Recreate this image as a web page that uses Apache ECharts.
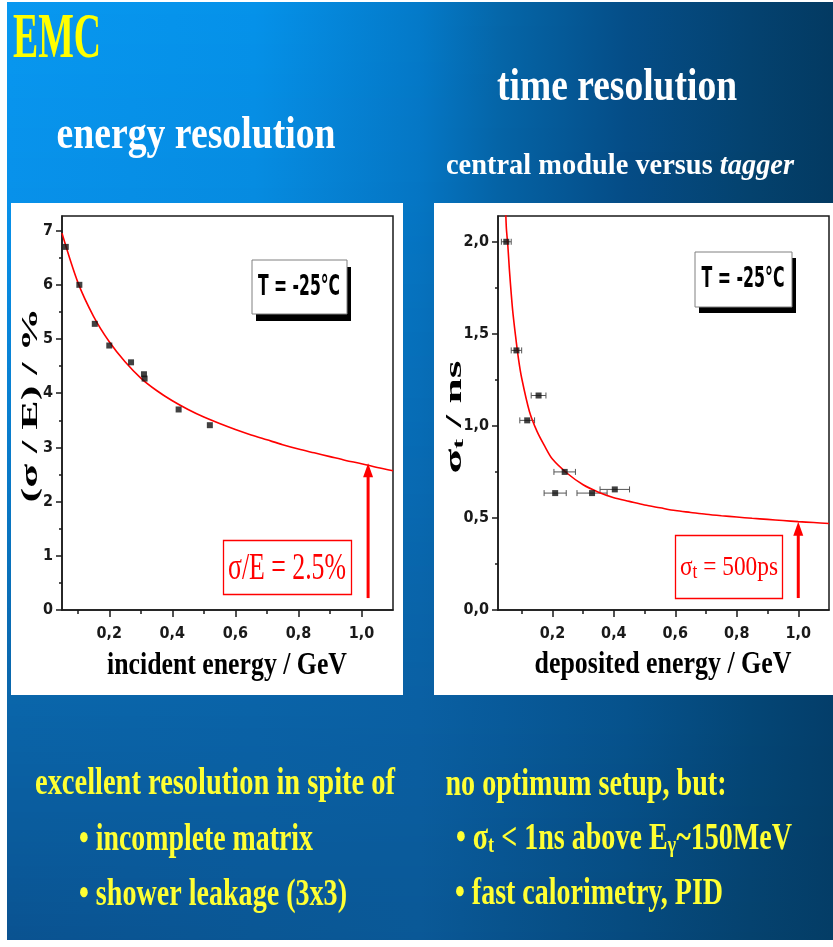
<!DOCTYPE html>
<html><head><meta charset="utf-8">
<script src="https://cdn.jsdelivr.net/npm/echarts@6/dist/echarts.min.js"></script>
<style>html,body{margin:0;padding:0;background:#fff;overflow:hidden}#c{width:833px;height:947px}</style>
</head><body><div id="c"></div>
<script>
// ================= DATA =================
// Energy resolution (left panel): measured points [E/GeV, sigma/E %]
const energyPoints = [[0.062,6.70],[0.105,6.00],[0.154,5.28],[0.200,4.88],[0.269,4.57],[0.310,4.35],[0.312,4.27],[0.420,3.70],[0.519,3.41]];
// fitted curve
const energyFit = [[0.05,6.95],[0.10,6.05],[0.15,5.42],[0.20,4.95],[0.25,4.58],[0.30,4.28],[0.35,4.05],[0.40,3.86],[0.45,3.70],[0.50,3.56],[0.55,3.44],[0.60,3.33],[0.65,3.23],[0.70,3.14],[0.75,3.05],[0.80,2.97],[0.85,2.90],[0.90,2.83],[0.95,2.76],[1.00,2.70],[1.05,2.63],[1.10,2.57]];
// Time resolution (right panel): [E/GeV, sigma_t ns, x error GeV]
const timePoints = [[0.050,2.00,0.016],[0.083,1.41,0.017],[0.155,1.165,0.024],[0.118,1.03,0.024],[0.240,0.75,0.035],[0.209,0.635,0.036],[0.329,0.635,0.049],[0.403,0.655,0.048]];
const timeFit = [[0.045,2.33],[0.05,2.08],[0.055,1.98],[0.06,1.85],[0.07,1.64],[0.08,1.49],[0.09,1.36],[0.10,1.26],[0.125,1.08],[0.15,0.97],[0.175,0.89],[0.20,0.82],[0.25,0.74],[0.30,0.68],[0.35,0.64],[0.40,0.61],[0.45,0.59],[0.50,0.57],[0.55,0.555],[0.60,0.54],[0.65,0.53],[0.70,0.52],[0.75,0.512],[0.80,0.505],[0.85,0.498],[0.90,0.492],[0.95,0.486],[1.00,0.48],[1.05,0.475],[1.10,0.47]];
// arrows [x, yStart, yTip] (data coordinates)
const energyArrow = [[1.021, 0.22, 2.71]];
const timeArrow = [[1.0, 0.065, 0.479]];
// ticks
const xMajorTicks = [0.2,0.4,0.6,0.8,1.0];
const xMinorTicks = [0.1,0.3,0.5,0.7,0.9];
const energyYTicks = [0,1,2,3,4,5,6,7];
const energyYMinor = [0.5,1.5,2.5,3.5,4.5,5.5,6.5];
const timeYTicks = [0,0.5,1.0,1.5,2.0];
const timeYMinor = [0.25,0.75,1.25,1.75];
// texts
const titleMain = 'EMC';
const titleLeft = 'energy resolution';
const titleRight = 'time resolution';
const subRight = ['central module versus ', 'tagger'];
const leftXName = 'incident energy / GeV';
const leftYName = '(σ / E) / %';
const rightXName = 'deposited energy / GeV';
const rightYName = ['σ', 't', ' / ns'];
const tempLabel = 'T = -25°C';
const leftNote = 'σ/E = 2.5%';
const rightNote = ['σ', 't', ' = 500ps'];
const bulletsLeft = ['excellent resolution in spite of', '• incomplete matrix', '• shower leakage (3x3)'];
const bulletsRight = ['no optimum setup, but:', ['• σ', 't', ' < 1ns above E', 'γ', '~150MeV'], '• fast calorimetry, PID'];

// ================= HELPERS =================
const FS = "'Liberation Serif','Times New Roman',serif";
const FN = "'Liberation Sans Narrow','Arial Narrow','DejaVu Sans Condensed',sans-serif";
const mctx = document.createElement('canvas').getContext('2d');
function fstr(size, weight, fam, style) { return (style || 'normal') + ' ' + (weight || 'normal') + ' ' + size + 'px ' + fam; }
function measure(parts) { let w = 0; parts.forEach(p => { mctx.font = p[1]; w += mctx.measureText(p[0]).width; }); return w; }
const comma = v => v.toFixed(1).replace('.', ',');

function ftext(text, cx, cy, w, size, weight, fam, fill, opts) {
  opts = opts || {};
  const font = fstr(size, weight, fam, opts.style);
  const s = w / measure([[text, font]]);
  const el = { type: 'text', x: cx, y: cy, z: 100, silent: true,
    style: { text: text, font: font, fill: fill, align: 'center', verticalAlign: 'middle' } };
  if (opts.rot) { el.rotation = Math.PI / 2; el.scaleX = s; el.scaleY = opts.squeeze || 1; }
  else { el.scaleX = s; el.scaleY = opts.sy || 1; }
  return el;
}
function rtext(segs, cx, cy, w, fam, fill, opts) {
  opts = opts || {};
  const rich = {}; let str = ''; const parts = [];
  segs.forEach((sg, i) => {
    const key = 's' + i;
    rich[key] = { fontSize: sg[1], fontWeight: sg[2] || 'normal', fontStyle: sg[3] || 'normal', fontFamily: fam,
      verticalAlign: sg[4] ? 'bottom' : 'middle', padding: sg[4] ? [sg[5] || 0, 0, 0, 0] : 0 };
    str += '{' + key + '|' + sg[0] + '}';
    parts.push([sg[0], fstr(sg[1], sg[2], fam, sg[3])]);
  });
  const s = w / measure(parts);
  const el = { type: 'text', x: cx, y: cy, z: 100, silent: true,
    style: { text: str, rich: rich, fill: fill, align: 'center', verticalAlign: 'middle', fontFamily: fam, fontSize: segs[0][1] } };
  if (opts.rot) { el.rotation = Math.PI / 2; el.scaleX = s; el.scaleY = opts.squeeze || 1; }
  else { el.scaleX = s; }
  return el;
}

// ================= BACKGROUND =================
const bgStops = [0, .3, .5, .6, .75, .9, 1];
const bgRows = [
  { y: 0,   c: ['#0898f0', '#0592ea', '#047ac9', '#0566a8', '#054e88', '#044270', '#033a62'] },
  { y: 200, c: ['#0891ea', '#068be0', '#0575c3', '#0562a4', '#054c86', '#04426e', '#033a62'] },
  { y: 720, c: ['#0a64a8', '#0a62a6', '#0a5fa2', '#085a9a', '#06528c', '#044676', '#043e6a'] },
  { y: 947, c: ['#0a5290', '#0a5694', '#0a5896', '#08528c', '#064a7e', '#05426e', '#043d66'] }
];
function h2r(h) { return [parseInt(h.substr(1, 2), 16), parseInt(h.substr(3, 2), 16), parseInt(h.substr(5, 2), 16)]; }
function mixc(a, b, t) { const A = h2r(a), B = h2r(b); return 'rgb(' + A.map((v, i) => Math.round(v + (B[i] - v) * t)).join(',') + ')'; }
const graphics = [];
graphics.push({ type: 'rect', shape: { x: 0, y: 0, width: 833, height: 947 }, style: { fill: '#ffffff' }, z: -30, silent: true });
for (let y = 2; y < 940; y += 6) {
  const yc = y + 3;
  let k = 0; while (k < bgRows.length - 2 && yc > bgRows[k + 1].y) k++;
  const r0 = bgRows[k], r1 = bgRows[k + 1];
  const t = Math.max(0, Math.min(1, (yc - r0.y) / (r1.y - r0.y)));
  const stops = bgStops.map((o, i) => ({ offset: o, color: mixc(r0.c[i], r1.c[i], t) }));
  graphics.push({ type: 'rect', silent: true, z: -20, shape: { x: 7, y: y, width: 826, height: Math.min(7, 940 - y) },
    style: { fill: new echarts.graphic.LinearGradient(0, 0, 1, 0, stops) } });
}
graphics.push({ type: 'rect', silent: true, z: -10, shape: { x: 11, y: 203, width: 392, height: 492 }, style: { fill: '#ffffff' } });
graphics.push({ type: 'rect', silent: true, z: -10, shape: { x: 434, y: 203, width: 399, height: 492 }, style: { fill: '#ffffff' } });

function tbox(x, y, w, h, dx, dy) {
  graphics.push({ type: 'rect', silent: true, z: 90, shape: { x: x + dx, y: y + dy, width: w, height: h }, style: { fill: '#000' } });
  graphics.push({ type: 'rect', silent: true, z: 91, shape: { x: x, y: y, width: w, height: h }, style: { fill: '#fff', stroke: '#808080', lineWidth: 1 } });
}
tbox(252, 260, 95, 54, 4, 7);
tbox(695, 252, 97, 55, 4, 6);
graphics.push(ftext(tempLabel, 299, 287, 82, 26, 'bold', FN, '#000', { sy: 1.12 }));
graphics.push(ftext(tempLabel, 743, 279, 83, 26, 'bold', FN, '#000', { sy: 1.12 }));
graphics.push({ type: 'rect', silent: true, z: 90, shape: { x: 223.5, y: 540.5, width: 128, height: 54 }, style: { fill: 'rgba(0,0,0,0)', stroke: '#ff0000', lineWidth: 1.3 } });
graphics.push({ type: 'rect', silent: true, z: 90, shape: { x: 675.5, y: 535.5, width: 107, height: 63 }, style: { fill: 'rgba(0,0,0,0)', stroke: '#ff0000', lineWidth: 1.3 } });
graphics.push(ftext(leftNote, 287, 569, 118, 37, 'normal', FS, '#ff0000'));
graphics.push(rtext([[rightNote[0], 28], [rightNote[1], 21, 'normal', 'normal', true, 8], [rightNote[2], 28]], 729, 568, 98, FS, '#ff0000'));

graphics.push(ftext(titleMain, 57, 40, 88, 64, 'bold', FS, '#ffff00'));
graphics.push(ftext(titleLeft, 196, 136, 279, 47, 'bold', FS, '#ffffff'));
graphics.push(ftext(titleRight, 617, 88, 240, 46, 'bold', FS, '#ffffff'));
graphics.push(rtext([[subRight[0], 29, 'bold'], [subRight[1], 29, 'bold', 'italic']], 620, 167, 348, FS, '#ffffff'));
graphics.push(ftext(leftXName, 227, 666, 240, 32, 'bold', FS, '#000'));
graphics.push(ftext(rightXName, 663, 665, 257, 32, 'bold', FS, '#000'));
graphics.push(ftext(leftYName, 31, 405, 195, 40, 'bold', FS, '#000', { rot: true, squeeze: 0.6 }));
graphics.push(rtext([[rightYName[0], 40, 'bold'], [rightYName[1], 26, 'bold', 'normal', true, 10], [rightYName[2], 40, 'bold']], 455, 417, 113, FS, '#000', { rot: true, squeeze: 0.6 }));
const Y = '#ffff33';
graphics.push(ftext(bulletsLeft[0], 215, 784, 360, 37, 'bold', FS, Y));
graphics.push(ftext(bulletsLeft[1], 196, 840, 234, 37, 'bold', FS, Y));
graphics.push(ftext(bulletsLeft[2], 213, 895, 268, 37, 'bold', FS, Y));
graphics.push(ftext(bulletsRight[0], 586, 785, 281, 37, 'bold', FS, Y));
const br = bulletsRight[1];
graphics.push(rtext([[br[0], 37, 'bold'], [br[1], 24, 'bold', 'normal', true, 10], [br[2], 37, 'bold'], [br[3], 24, 'bold', 'normal', true, 10], [br[4], 37, 'bold']], 624, 839, 336, FS, Y));
graphics.push(ftext(bulletsRight[2], 589, 894, 268, 37, 'bold', FS, Y));

// ================= AXES =================
const tickFont = { fontFamily: FN, fontWeight: 'bold', fontSize: 16, color: '#1a1a1a' };
const AX = { color: '#1a1a1a', width: 1.5 };
function xAxes(grid, min, max) {
  return [
    { type: 'value', gridIndex: grid, min: min, max: max, position: 'bottom',
      axisLine: { show: true, onZero: false, lineStyle: AX },
      axisTick: { show: true, customValues: xMajorTicks, length: 7, lineStyle: AX },
      axisLabel: { customValues: xMajorTicks, formatter: comma, margin: 16, ...tickFont },
      splitLine: { show: false } },
    { type: 'value', gridIndex: grid, min: min, max: max, position: 'bottom',
      axisLine: { show: false, onZero: false },
      axisTick: { show: true, customValues: xMinorTicks, length: 4, lineStyle: AX },
      axisLabel: { show: false }, splitLine: { show: false } }
  ];
}
function yAxes(grid, min, max, major, minor, fmt) {
  return [
    { type: 'value', gridIndex: grid, min: min, max: max, position: 'left',
      axisLine: { show: true, onZero: false, lineStyle: AX },
      axisTick: { show: true, customValues: major, length: 6, lineStyle: AX },
      axisLabel: { customValues: major, formatter: fmt, margin: 9, ...tickFont },
      splitLine: { show: false } },
    { type: 'value', gridIndex: grid, min: min, max: max, position: 'left',
      axisLine: { show: false, onZero: false },
      axisTick: { show: true, customValues: minor, length: 3, lineStyle: AX },
      axisLabel: { show: false }, splitLine: { show: false } }
  ];
}

const errorBars = {
  type: 'custom', xAxisIndex: 2, yAxisIndex: 2, z: 3, silent: true,
  data: timePoints, encode: { x: 0, y: 1 },
  renderItem: function (params, api) {
    const x = api.value(0), y = api.value(1), e = api.value(2);
    const a = api.coord([x - e, y]), b = api.coord([x + e, y]);
    const st = { stroke: '#555', lineWidth: 1 };
    return { type: 'group', children: [
      { type: 'line', shape: { x1: a[0], y1: a[1], x2: b[0], y2: b[1] }, style: st },
      { type: 'line', shape: { x1: a[0], y1: a[1] - 3, x2: a[0], y2: a[1] + 3 }, style: st },
      { type: 'line', shape: { x1: b[0], y1: b[1] - 3, x2: b[0], y2: b[1] + 3 }, style: st }
    ] };
  }
};
function arrowSeries(xi, yi, data) {
  return {
    type: 'custom', xAxisIndex: xi, yAxisIndex: yi, z: 6, silent: true, clip: false,
    data: data, encode: { x: 0, y: [1, 2] },
    renderItem: function (params, api) {
      const x = api.value(0);
      const p0 = api.coord([x, api.value(1)]), p1 = api.coord([x, api.value(2)]);
      const hw = 5, hh = 14;
      return { type: 'group', children: [
        { type: 'line', shape: { x1: p0[0], y1: p0[1], x2: p1[0], y2: p1[1] + hh - 2 }, style: { stroke: '#ff0000', lineWidth: 3 } },
        { type: 'polygon', shape: { points: [[p1[0], p1[1]], [p1[0] - hw, p1[1] + hh], [p1[0] + hw, p1[1] + hh]] }, style: { fill: '#ff0000' } }
      ] };
    }
  };
}

const option = {
  animation: false,
  backgroundColor: '#ffffff',
  graphic: { elements: graphics },
  grid: [
    { left: 62, top: 216, width: 331, height: 394, show: true, borderColor: '#1a1a1a', borderWidth: 1.5, backgroundColor: 'rgba(0,0,0,0)' },
    { left: 498, top: 216, width: 331, height: 394, show: true, borderColor: '#1a1a1a', borderWidth: 1.5, backgroundColor: 'rgba(0,0,0,0)' }
  ],
  xAxis: [...xAxes(0, 0.05, 1.1), ...xAxes(1, 0.023, 1.1)],
  yAxis: [...yAxes(0, 0, 7.27, energyYTicks, energyYMinor, v => String(Math.round(v))),
          ...yAxes(1, 0, 2.14, timeYTicks, timeYMinor, comma)],
  series: [
    { type: 'line', xAxisIndex: 0, yAxisIndex: 0, data: energyFit, smooth: 0.3, symbol: 'none', z: 3,
      lineStyle: { color: '#ff0000', width: 1.6 } },
    { type: 'scatter', xAxisIndex: 0, yAxisIndex: 0, data: energyPoints, symbol: 'rect', symbolSize: 6, z: 4,
      itemStyle: { color: '#111' } },
    arrowSeries(0, 0, energyArrow),
    errorBars,
    { type: 'line', xAxisIndex: 2, yAxisIndex: 2, data: timeFit, smooth: 0.3, symbol: 'none', z: 3,
      lineStyle: { color: '#ff0000', width: 1.6 } },
    { type: 'scatter', xAxisIndex: 2, yAxisIndex: 2, data: timePoints.map(p => [p[0], p[1]]), symbol: 'rect', symbolSize: 6, z: 4,
      itemStyle: { color: '#111' } },
    arrowSeries(2, 2, timeArrow)
  ]
};
const chart = echarts.init(document.getElementById('c'), null, { renderer: 'canvas', width: 833, height: 947 });
chart.setOption(option);
</script>
</body></html>
